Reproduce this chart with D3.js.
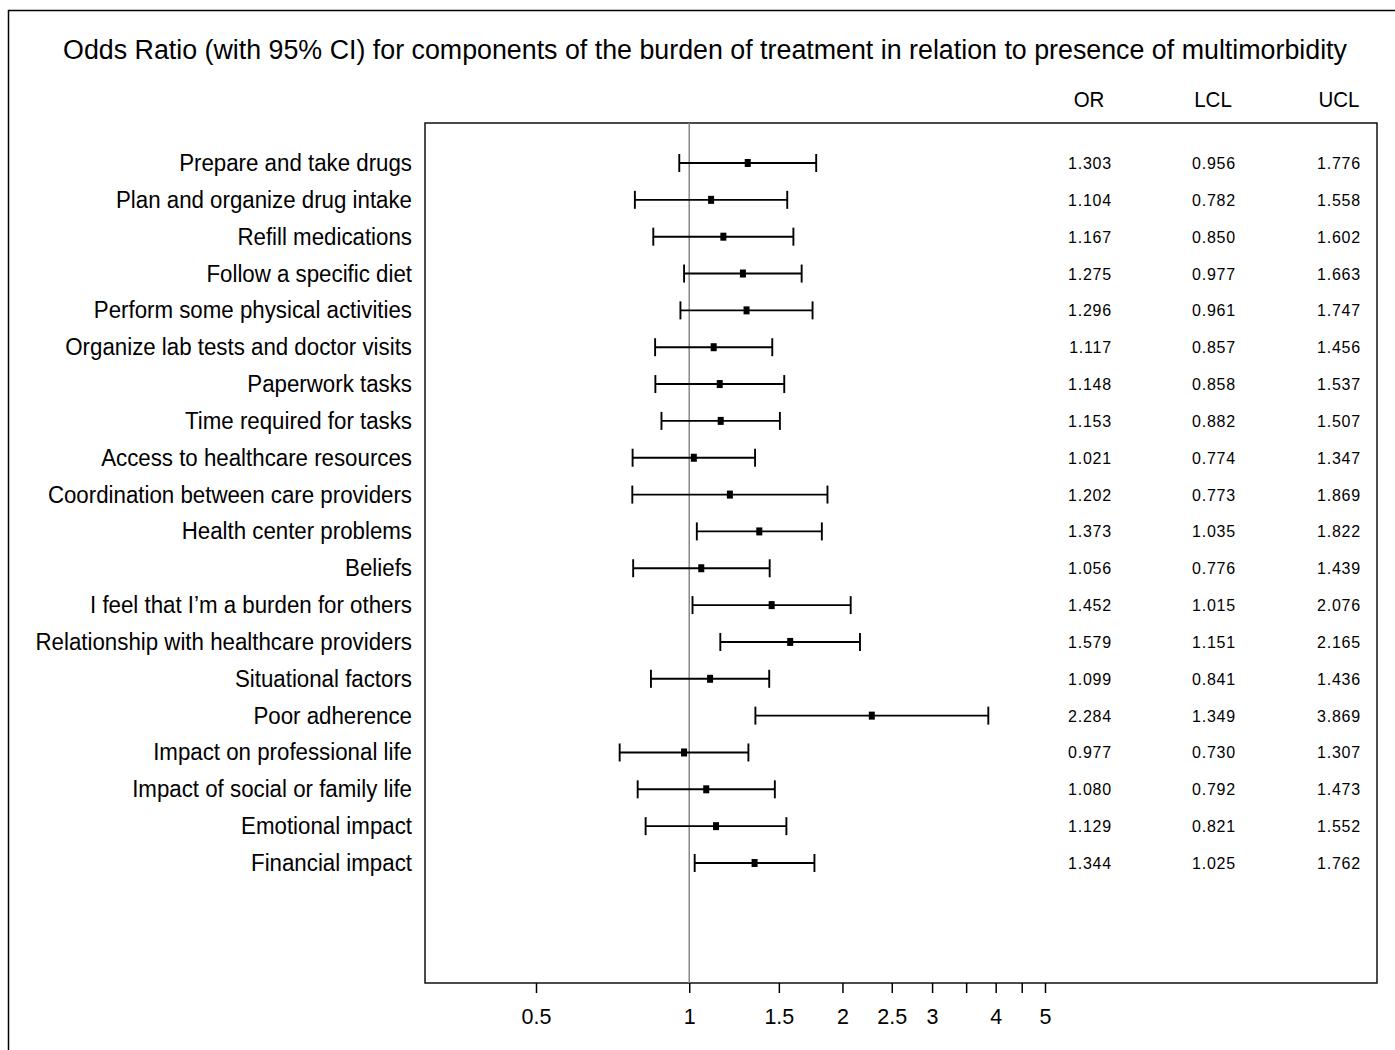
<!DOCTYPE html>
<html><head><meta charset="utf-8">
<script src="https://cdn.jsdelivr.net/npm/d3@7"></script>
<style>body{margin:0;background:#fff;}svg{display:block;}text{font-family:"Liberation Sans",Arial,sans-serif;fill:#000;}</style>
</head><body>
<svg id="c" width="1395" height="1050"></svg>
<script>
const categories = ["Prepare and take drugs","Plan and organize drug intake","Refill medications","Follow a specific diet","Perform some physical activities","Organize lab tests and doctor visits","Paperwork tasks","Time required for tasks","Access to healthcare resources","Coordination between care providers","Health center problems","Beliefs","I feel that I\u2019m a burden for others","Relationship with healthcare providers","Situational factors","Poor adherence","Impact on professional life","Impact of social or family life","Emotional impact","Financial impact"];
const orValues = ["1.303","1.104","1.167","1.275","1.296","1.117","1.148","1.153","1.021","1.202","1.373","1.056","1.452","1.579","1.099","2.284","0.977","1.080","1.129","1.344"];
const lclValues = ["0.956","0.782","0.850","0.977","0.961","0.857","0.858","0.882","0.774","0.773","1.035","0.776","1.015","1.151","0.841","1.349","0.730","0.792","0.821","1.025"];
const uclValues = ["1.776","1.558","1.602","1.663","1.747","1.456","1.537","1.507","1.347","1.869","1.822","1.439","2.076","2.165","1.436","3.869","1.307","1.473","1.552","1.762"];
const tickValues = [0.5,1,1.5,2,2.5,3,3.5,4,4.5,5];
const tickLabels = ["0.5","1","1.5","2","2.5","3","","4","","5"];
const columnHeaders = ["OR","LCL","UCL"];

const svg = d3.select("#c");
const box = {l:425, r:1377, t:123, b:983};
const x = d3.scaleLog().domain([0.5,5]).range([536,1045]);
const y = d3.scalePoint().domain(categories).range([163,863]);

// outer border
svg.append("path").attr("d","M8.5,1050 V10.5 H1395").attr("fill","none").attr("stroke","#000").attr("stroke-width",1.5);

// title
svg.append("text").attr("x",705).attr("y",58.5).attr("text-anchor","middle")
  .style("font-size","26.8px").text("Odds Ratio (with 95% CI) for components of the burden of treatment in relation to presence of multimorbidity");

// plot box
svg.append("rect").attr("x",box.l).attr("y",box.t).attr("width",box.r-box.l).attr("height",box.b-box.t)
  .attr("fill","none").attr("stroke","#111").attr("stroke-width",1.5);

// reference line
svg.append("line").attr("x1",x(1)).attr("x2",x(1)).attr("y1",box.t).attr("y2",box.b)
  .attr("stroke","#888").attr("stroke-width",1.5);

// axis
const axis = d3.axisBottom(x).tickValues(tickValues).tickFormat((d,i)=>tickLabels[i]).tickSize(10);
const ax = svg.append("g").attr("transform",`translate(0,${box.b})`).call(axis);
ax.select(".domain").remove();
ax.selectAll(".tick line").attr("stroke","#000").attr("stroke-width",1.5);
ax.selectAll(".tick text").attr("y",0).attr("dy",null)
  .attr("transform","translate(0,41) scale(1,1.06)")
  .style("font-size","21.5px").attr("fill","#000").style("font-family","'Liberation Sans',Arial,sans-serif");

// headers
const hdrX = [1089,1213,1339];
columnHeaders.forEach((h,i)=>{
  svg.append("text").attr("transform",`translate(${hdrX[i]},107) scale(1,1.1)`).attr("text-anchor","middle").style("font-size","20.5px").text(h);
});

// rows
const colX = [1112,1236,1361];
const rows = svg.append("g");
categories.forEach((c,i)=>{
  const yy = y(c);
  const lo = +lclValues[i], hi = +uclValues[i], o = +orValues[i];
  rows.append("text").attr("transform",`translate(412,${yy+8}) scale(1,1.08)`).attr("text-anchor","end").style("font-size","22.3px").text(c);
  rows.append("line").attr("x1",x(lo)).attr("x2",x(hi)).attr("y1",yy).attr("y2",yy).attr("stroke","#000").attr("stroke-width",1.9);
  [lo,hi].forEach(v=>rows.append("line").attr("x1",x(v)).attr("x2",x(v)).attr("y1",yy-9).attr("y2",yy+9).attr("stroke","#000").attr("stroke-width",1.9));
  rows.append("rect").attr("x",x(o)-3).attr("y",yy-4).attr("width",6).attr("height",8).attr("fill","#000");
  [orValues[i],lclValues[i],uclValues[i]].forEach((t,j)=>{
    rows.append("text").attr("x",colX[j]).attr("y",yy+6).attr("text-anchor","end").style("font-size","16px").style("letter-spacing","0.8px").text(t);
  });
});
</script>
</body></html>
